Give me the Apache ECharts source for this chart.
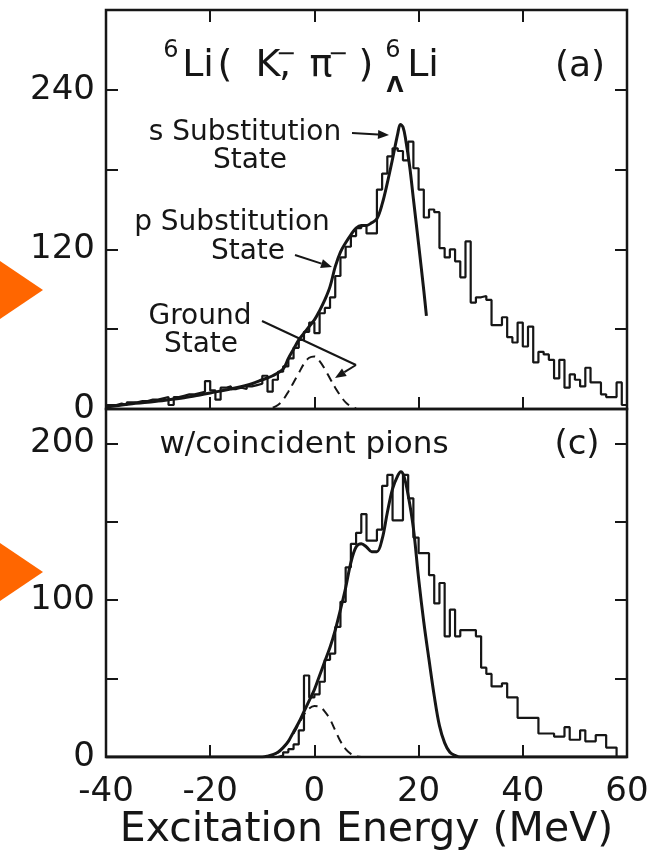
<!DOCTYPE html>
<html><head><meta charset="utf-8">
<script src="https://cdn.jsdelivr.net/npm/echarts@6/dist/echarts.min.js"></script>
<style>html,body{margin:0;padding:0;background:#fff}#c{width:662px;height:862px}</style>
</head><body><div id="c"></div>
<script>
// ---------------- data ----------------
const xTicks = [-40, -20, 0, 20, 40, 60];
const yLabelsA = [0, 120, 240];
const yLabelsC = [0, 100, 200];
const binStart = -40, binWidth = 1;

// panel (a): counts per 1 MeV bin, E = -40 ... 59
const countsA = [
  3,3,4,3,5,5,6,6,7,7,
  8,9,3,9,10,11,11,12,13,21,
  14,7,16,17,15,16,15,17,18,19,
  25,13,22,28,32,38,46,52,58,65,
  57,72,76,84,100,114,122,130,136,138,
  132,132,165,177,190,196,194,187,201,181,
  165,144,150,148,121,114,120,111,99,126,
  80,84,85,82,63,63,69,54,50,65,
  47,62,35,43,41,37,23,37,16,26,
  22,17,31,20,20,11,9,9,20,3
];
// panel (c): counts per 1 MeV bin, E = -40 ... 59
const countsC = [
  0,0,0,0,0,0,0,0,0,0,
  0,0,0,0,0,0,0,0,0,0,
  0,0,0,0,0,0,0,0,0,0,
  0,0,0,1,3,5,8,17,52,38,
  40,48,62,66,83,99,121,136,143,155,
  138,138,145,173,180,151,151,180,165,140,
  130,130,116,98,111,77,94,77,81,81,
  81,77,57,53,45,45,47,38,38,25,
  25,25,25,15,15,15,13,13,19,11,
  11,17,10,10,14,14,6,6,0,0
];

// fit curve (a)
const fitAE = [-40,-38,-35,-32,-30,-25,-22,-20,-15,-12,-10,-8,-6,-5,-4,-3,-2,-1,0,1,2,3,4,5,6,7,8,9,10,11,12,13,14,15,16,16.5,17,17.5,18.3,19,20,21,21.5];
const fitAV = [1.5,2.5,4,5,6,8.5,10.5,12,16,19,22,25,30,38,45,52,57,62,67,74,82,92,107,118,125,131,136,138,138,140,143,154,170,188,207,214,212,203,182,158,124,89,70];
// ground-state component (a)
const gsAE = [-8,-7,-6,-5,-4,-3,-2,-1,0,1,2,3,4,5,6,7,8];
const gsAV = [1,3,7,13,20,27,34,38.5,39.5,36,30,23,16,10,5,2,0.5];

// fit curve (c)
const fitCE = [-40,-10,-9,-8,-7,-6,-5,-4,-3,-2,-1,0,1,2,3,4,5,6,7,8,9,10,11,12,13,14,15,16,16.6,17.2,18,19,20,21,22,23,24,25,26,27,28,60];
const fitCV = [0,0,0.5,1.5,3,6,10,16,22,29,36,43,52,61,70,81,94,108,124,134,136,134,131,131,139,156,171,179.5,182,179,167,146,114,86,62,39,20,9,3,1,0,0];
// ground-state component (c)
const gsCE = [-8,-7,-6,-5,-4,-3,-2,-1,0,1,2,3,4,5,6,7,8,9];
const gsCV = [1.5,3,6,10,15,21,27,31,32.5,32,29,24,17,10,5,2,0.5,0];

// ---------------- build series data ----------------
function histData(counts) {
  const d = counts.map((v, i) => [binStart + i * binWidth, v]);
  d.push([binStart + counts.length * binWidth, counts[counts.length - 1]]);
  return d;
}
const pairs = (xs, ys) => xs.map((x, i) => [x, ys[i]]);

const FONT = 'DejaVu Sans';
const INK = '#161616';

function xAx(grid, pos, labels) {
  return {
    type: 'value', gridIndex: grid, position: pos, min: -40, max: 60, interval: 20,
    axisLine: { show: false, onZero: false },
    axisTick: { show: true, inside: true, length: 12, lineStyle: { color: INK, width: 2 } },
    axisLabel: { show: labels, color: INK, fontFamily: FONT, fontSize: 34, margin: 18,
      formatter: v => xTicks.includes(v) ? String(v) : '' },
    splitLine: { show: false }
  };
}
function yAx(grid, pos, max, interval, lbls) {
  return {
    type: 'value', gridIndex: grid, position: pos, min: 0, max: max, interval: interval,
    axisLine: { show: false, onZero: false },
    axisTick: { show: true, inside: true, length: 12, lineStyle: { color: INK, width: 2 } },
    axisLabel: { show: !!lbls, color: INK, fontFamily: FONT, fontSize: 34, margin: 11,
      formatter: v => (lbls && lbls.includes(v)) ? String(v) : '' },
    splitLine: { show: false }
  };
}

function arrow(x1, y1, x2, y2, head) {
  const a = Math.atan2(y2 - y1, x2 - x1), L = head || 11, W = 4.5;
  const bx = x2 - L * Math.cos(a), by = y2 - L * Math.sin(a);
  const px = -Math.sin(a) * W, py = Math.cos(a) * W;
  return [
    { type: 'line', shape: { x1: x1, y1: y1, x2: bx, y2: by }, style: { stroke: INK, lineWidth: 2 } },
    { type: 'polygon', shape: { points: [[x2, y2], [bx + px, by + py], [bx - px, by - py]] }, style: { fill: INK } }
  ];
}
function txt(t, x, y, size, weight) {
  return { type: 'text', x: x, y: y, style: { text: t, fill: INK, fontFamily: FONT, fontSize: size,
    fontWeight: weight || 'normal',
    align: 'center', verticalAlign: 'middle', textAlign: 'center', textVerticalAlign: 'middle' } };
}

const chart = echarts.init(document.getElementById('c'));
chart.setOption({
  backgroundColor: '#ffffff',
  animation: false,
  grid: [
    { left: 106, top: 10, width: 521, height: 399, show: true, borderColor: INK, borderWidth: 2.5, backgroundColor: 'transparent' },
    { left: 106, top: 409, width: 521, height: 348, show: true, borderColor: INK, borderWidth: 2.5, backgroundColor: 'transparent' }
  ],
  xAxis: [
    xAx(0, 'bottom', false),
    xAx(0, 'top', false),
    Object.assign(xAx(1, 'bottom', true), {
      name: 'Excitation Energy (MeV)', nameLocation: 'middle', nameGap: 50,
      nameTextStyle: { color: INK, fontFamily: FONT, fontSize: 41 }
    })
  ],
  yAxis: [
    yAx(0, 'left', 300, 60, yLabelsA),
    yAx(0, 'right', 300, 60, null),
    yAx(1, 'left', 222, 50, yLabelsC),
    yAx(1, 'right', 222, 50, null)
  ],
  series: [
    { type: 'line', xAxisIndex: 0, yAxisIndex: 0, step: 'end', showSymbol: false, data: histData(countsA),
      lineStyle: { color: INK, width: 2.2 }, z: 2 },
    { type: 'line', xAxisIndex: 0, yAxisIndex: 0, smooth: 0.35, showSymbol: false, data: pairs(fitAE, fitAV),
      lineStyle: { color: INK, width: 3 }, z: 3 },
    { type: 'line', xAxisIndex: 0, yAxisIndex: 0, smooth: 0.4, showSymbol: false, data: pairs(gsAE, gsAV),
      lineStyle: { color: INK, width: 2, type: [9, 6] }, z: 3 },
    { type: 'line', xAxisIndex: 2, yAxisIndex: 2, step: 'end', showSymbol: false, data: histData(countsC),
      lineStyle: { color: INK, width: 2.2 }, z: 2 },
    { type: 'line', xAxisIndex: 2, yAxisIndex: 2, smooth: 0.35, showSymbol: false, data: pairs(fitCE, fitCV),
      lineStyle: { color: INK, width: 3 }, z: 3 },
    { type: 'line', xAxisIndex: 2, yAxisIndex: 2, smooth: 0.4, showSymbol: false, data: pairs(gsCE, gsCV),
      lineStyle: { color: INK, width: 2, type: [9, 6] }, z: 3 }
  ],
  graphic: [
    { type: 'polygon', shape: { points: [[0, 261], [43, 290], [0, 319]] }, style: { fill: '#FF6600' } },
    { type: 'polygon', shape: { points: [[0, 543], [43, 572], [0, 601]] }, style: { fill: '#FF6600' } },
    // reaction title
    txt('6', 171, 51, 24),
    txt('Li', 198, 66, 38),
    txt('(', 225, 66, 38),
    txt('K', 268, 66, 38),
    txt('\u2212', 286, 55, 24),
    txt(',', 285, 66, 38),
    txt('\u03c0', 321, 66, 38),
    txt('\u2212', 338, 55, 24),
    txt(')', 366, 66, 38),
    txt('6', 393, 51, 24),
    txt('\u039b', 395, 86, 22, 'bold'),
    txt('Li', 423, 66, 38),
    txt('(a)', 580, 67, 36),
    // annotations
    txt('s Substitution', 245, 133, 28),
    txt('State', 250, 161, 28),
    txt('p Substitution', 232, 223, 28),
    txt('State', 248, 252, 28),
    txt('Ground', 200, 317, 28),
    txt('State', 201, 345, 28),
    ...arrow(352, 133, 389, 135),
    ...arrow(295, 255, 332, 267),
    { type: 'line', shape: { x1: 262, y1: 321, x2: 356, y2: 365 }, style: { stroke: INK, lineWidth: 2 } },
    ...arrow(356, 365, 335, 378),
    txt('w/coincident pions', 304, 445, 31),
    txt('(c)', 577, 445, 34)
  ]
});
</script>
</body></html>
